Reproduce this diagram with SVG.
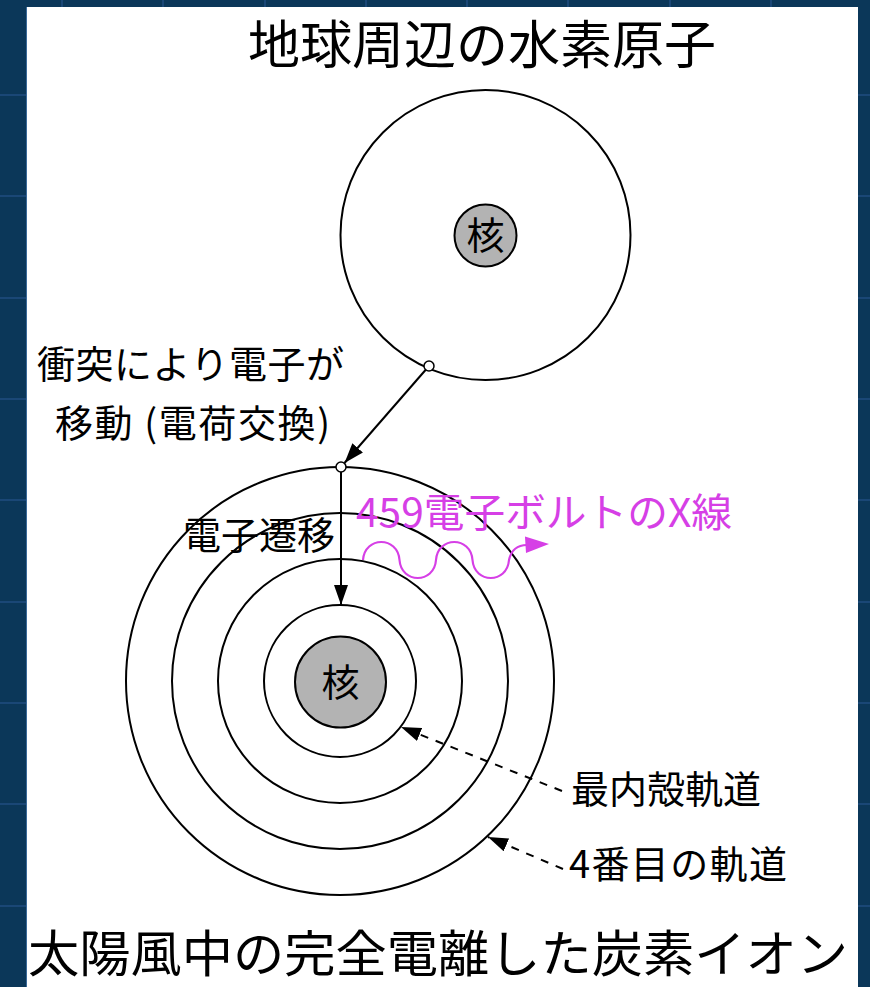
<svg xmlns="http://www.w3.org/2000/svg" width="870" height="987" viewBox="0 0 870 987">
  <style>
    .orbit { fill: none; stroke: #000; stroke-width: 2; }
    .nucleus { fill: #b3b3b3; stroke: #000; stroke-width: 2; }
    .label { font-family: "Noto Sans CJK JP", "Noto Sans", sans-serif; fill: #000; }
    .grid { stroke: #1a4776; stroke-width: 2; }
    .conn { stroke: #000; stroke-width: 2; fill: none; }
    .dash { stroke: #000; stroke-width: 2; fill: none; stroke-dasharray: 8 8; }
    .port { fill: #fff; stroke: #000; stroke-width: 1.5; }
  </style>
  <defs>
    <marker id="solid" viewBox="0 0 20 14" refX="20" refY="7" markerWidth="20" markerHeight="14" markerUnits="userSpaceOnUse" orient="auto">
      <path d="M0,0 L20,7 L0,14 Z" fill="#000"/>
    </marker>
  </defs>

  <!-- backdrop with grid -->
  <rect x="0" y="0" width="870" height="987" fill="#0b3759"/>
  <g class="grid">
    <line x1="0" y1="95" x2="870" y2="95"/>
    <line x1="0" y1="196" x2="870" y2="196"/>
    <line x1="0" y1="298" x2="870" y2="298"/>
    <line x1="0" y1="399" x2="870" y2="399"/>
    <line x1="0" y1="500" x2="870" y2="500"/>
    <line x1="0" y1="602" x2="870" y2="602"/>
    <line x1="0" y1="703" x2="870" y2="703"/>
    <line x1="0" y1="804" x2="870" y2="804"/>
    <line x1="0" y1="906" x2="870" y2="906"/>
    <line x1="62" y1="0" x2="62" y2="987"/>
    <line x1="163" y1="0" x2="163" y2="987"/>
    <line x1="265" y1="0" x2="265" y2="987"/>
    <line x1="366" y1="0" x2="366" y2="987"/>
    <line x1="467" y1="0" x2="467" y2="987"/>
    <line x1="568" y1="0" x2="568" y2="987"/>
    <line x1="670" y1="0" x2="670" y2="987"/>
    <line x1="771" y1="0" x2="771" y2="987"/>
  </g>
  <rect x="26" y="7" width="832" height="990" fill="#fff"/>
  <line x1="26.5" y1="7" x2="26.5" y2="987" stroke="#3a6a9a" stroke-width="1"/>

  <!-- hydrogen atom near Earth -->
  <g id="hydrogen">
    <circle class="orbit" cx="485.5" cy="235" r="145"/>
    <circle class="nucleus" cx="485.5" cy="235.5" r="31"/>
    <text class="label" x="485.5" y="249" font-size="38" text-anchor="middle">核</text>
  </g>

  <!-- fully ionised carbon ion -->
  <g id="carbon">
    <circle class="orbit" cx="340" cy="681" r="214"/>
    <circle class="orbit" cx="340" cy="681" r="168"/>
    <circle class="orbit" cx="340" cy="681" r="122"/>
    <circle class="orbit" cx="340" cy="681" r="76"/>
    <circle class="nucleus" cx="340.5" cy="682" r="45.5"/>
    <text class="label" x="340.5" y="696" font-size="38" text-anchor="middle">核</text>
  </g>

  <!-- connectors -->
  <g id="connectors">
    <line class="conn" x1="429" y1="366" x2="344.5" y2="463" marker-end="url(#solid)"/>
    <line class="conn" x1="341" y1="472" x2="341" y2="605" marker-end="url(#solid)"/>
    <line class="dash" x1="562" y1="791" x2="401" y2="727" marker-end="url(#solid)"/>
    <line class="dash" x1="563" y1="869" x2="488" y2="837" marker-end="url(#solid)"/>
    <circle class="port" cx="429" cy="366" r="5"/>
    <circle class="port" cx="341" cy="467" r="5"/>
  </g>

  <!-- emitted X-ray photon -->
  <g id="xray">
    <path d="M363,560 C364.8,536 397.7,536 399.5,560 C401.3,584 434.2,584 436,560 C437.8,536 470.7,536 472.5,560 C474.3,584 507.2,584 509,560 C511,551 517,545 527,545" fill="none" stroke="#d63fe6" stroke-width="2.2"/>
    <path d="M525,536.5 L549,544 L526,553 Z" fill="#d63fe6"/>
    <text class="label" x="356" y="527" font-size="40" textLength="376" lengthAdjust="spacingAndGlyphs" style="fill:#d63fe6">459電子ボルトのX線</text>
  </g>

  <!-- labels -->
  <g id="labels">
    <text class="label" x="482" y="64" font-size="52" text-anchor="middle">地球周辺の水素原子</text>
    <text class="label" x="37" y="378" font-size="38" textLength="307">衝突により電子が</text>
    <text class="label" x="55" y="437" font-size="38" textLength="275">移動 (電荷交換)</text>
    <text class="label" x="183" y="549" font-size="38">電子遷移</text>
    <text class="label" x="571" y="803" font-size="38">最内殻軌道</text>
    <text class="label" x="569" y="878" font-size="38" textLength="218">4番目の軌道</text>
    <text class="label" x="28" y="972" font-size="50" textLength="820" lengthAdjust="spacingAndGlyphs">太陽風中の完全電離した炭素イオン</text>
  </g>
</svg>
